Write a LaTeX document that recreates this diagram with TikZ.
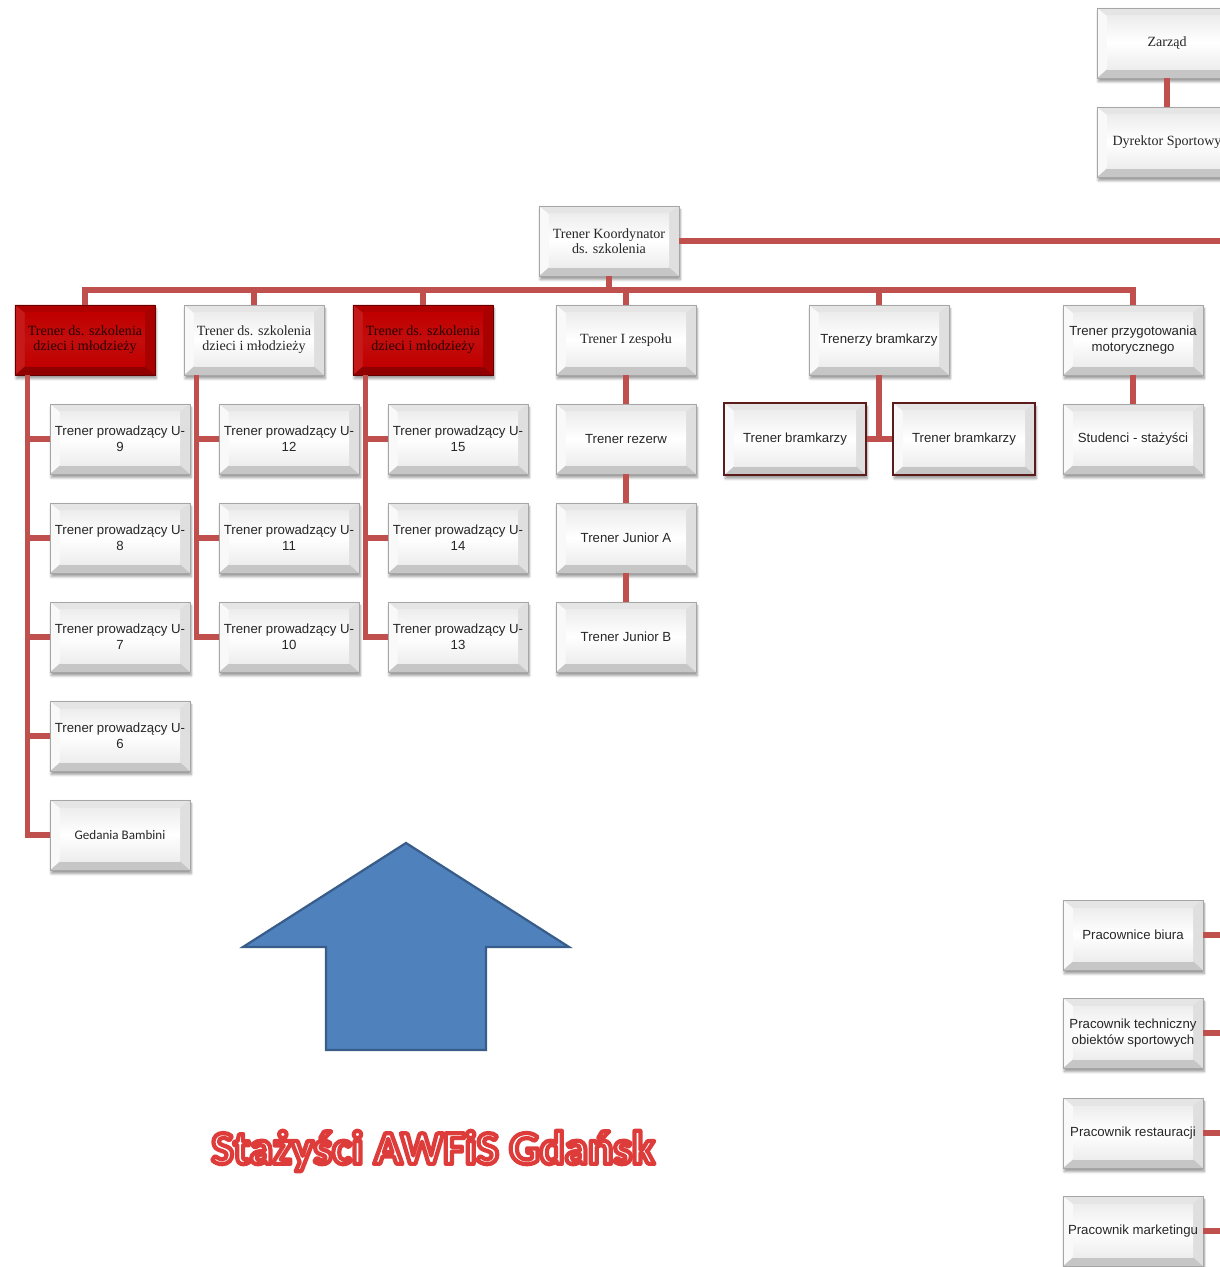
\documentclass[tikz,border=0pt]{standalone}
\usepackage{fontspec}
\usetikzlibrary{shadows.blur}
\newfontfamily\arialf{Liberation Sans}
\newfontfamily\cambf{Liberation Serif}
\newfontfamily\calibf{Carlito}
\newcommand{\outlinetext}[1]{\special{pdf:literal direct 2 Tr 3 w 1 j 0.87 0.23 0.23 RG}#1\special{pdf:literal direct 0 Tr}}

\definecolor{connred}{RGB}{192,80,77}
\definecolor{boxred}{RGB}{192,0,0}
\definecolor{goalie}{RGB}{92,28,28}
\definecolor{arrowfill}{RGB}{79,129,189}
\definecolor{arrowedge}{RGB}{56,93,138}
\definecolor{txtgray}{RGB}{38,38,38}

\tikzset{
	bevel/.style n args={6}{path picture={
		\coordinate (bva) at ([shift={(0.25cm,0.22cm)}]path picture bounding box.south west);
		\coordinate (bvb) at ([shift={(-0.25cm,-0.2cm)}]path picture bounding box.north east);
		\fill[#1] (path picture bounding box.south west) rectangle (path picture bounding box.north east);
		\fill[#2] (path picture bounding box.north west) -- (path picture bounding box.north east) -- (bvb) -- (bva |- bvb) -- cycle;
		\fill[#3] (path picture bounding box.north west) -- (bva |- bvb) -- (bva) -- (path picture bounding box.south west) -- cycle;
		\fill[#4] (path picture bounding box.north east) -- (bvb) -- (bvb |- bva) -- (path picture bounding box.south east) -- cycle;
		\shade[top color=#5, bottom color=#5, middle color=#6] (bva) rectangle (bvb);
	}},
	orgbox/.style={minimum width=3.5cm, minimum height=1.75cm, inner sep=1pt, align=center, draw=gray!70, line width=0.4pt, text=txtgray, blur shadow={shadow blur steps=6, shadow xshift=0.03cm, shadow yshift=-0.09cm, shadow opacity=40}, bevel={gray!45}{gray!20}{gray!5}{gray!25}{gray!14}{white}},
	sansbox/.style={orgbox, font=\arialf\fontsize{9.4}{11.4}\selectfont},
	serifbox/.style={orgbox, font=\cambf\fontsize{10}{10.6}\selectfont},
	redbox/.style={serifbox, draw=red!40!black, text=black!85!red, bevel={boxred!75!black}{boxred!92!black}{boxred!90!white}{boxred!88!black}{boxred}{boxred!95!white}},
	goalbox/.style={sansbox, minimum width=3.55cm, minimum height=1.8cm, draw=goalie, line width=1.6pt},
	conn/.style={draw=connred, line width=3.6pt},
}

\begin{document}
\begin{tikzpicture}[x=0.025cm, y=-0.025cm]
	\useasboundingbox (0,0) rectangle (1220,1267);
	\clip (0,0) rectangle (1220,1267);
	\coordinate (bar) at (609,290);
	\coordinate (redge) at (1240,0);

	\node[serifbox] (zarzad) at (1167,43) {Zarząd};
	\node[serifbox] (dyr) at (1167,142) {Dyrektor Sportowy};
	\node[serifbox] (koord) at (609,241) {Trener Koordynator\\ds. szkolenia};

	\node[redbox] (szk1) at (85,340) {Trener ds. szkolenia\\dzieci i młodzieży};
	\node[serifbox] (szk2) at (254,340) {Trener ds. szkolenia\\dzieci i młodzieży};
	\node[redbox] (szk3) at (423,340) {Trener ds. szkolenia\\dzieci i młodzieży};
	\node[serifbox] (zesp) at (626,340) {Trener I zespołu};
	\node[sansbox] (bramk) at (879,340) {Trenerzy bramkarzy};
	\node[sansbox] (motor) at (1133,340) {Trener przygotowania\\motorycznego};

	\node[sansbox] (u9) at (120,439) {Trener prowadzący U-\\9};
	\node[sansbox] (u8) at (120,538) {Trener prowadzący U-\\8};
	\node[sansbox] (u7) at (120,637) {Trener prowadzący U-\\7};
	\node[sansbox] (u6) at (120,736) {Trener prowadzący U-\\6};
	\node[orgbox, font=\calibf\fontsize{9.3}{11}\selectfont] (bambini) at (120,835) {Gedania Bambini};

	\node[sansbox] (u12) at (289,439) {Trener prowadzący U-\\12};
	\node[sansbox] (u11) at (289,538) {Trener prowadzący U-\\11};
	\node[sansbox] (u10) at (289,637) {Trener prowadzący U-\\10};

	\node[sansbox] (u15) at (458,439) {Trener prowadzący U-\\15};
	\node[sansbox] (u14) at (458,538) {Trener prowadzący U-\\14};
	\node[sansbox] (u13) at (458,637) {Trener prowadzący U-\\13};

	\node[sansbox] (rezerw) at (626,439) {Trener rezerw};
	\node[sansbox] (junA) at (626,538) {Trener Junior A};
	\node[sansbox] (junB) at (626,637) {Trener Junior B};

	\node[goalbox] (bramk1) at (795,439) {Trener bramkarzy};
	\node[goalbox] (bramk2) at (964,439) {Trener bramkarzy};
	\node[sansbox] (stud) at (1133,439) {Studenci - stażyści};

	\node[sansbox] (biuro) at (1133,935) {Pracownice biura};
	\node[sansbox] (tech) at (1133,1033) {Pracownik techniczny\\obiektów sportowych};
	\node[sansbox] (rest) at (1133,1133) {Pracownik restauracji};
	\node[sansbox] (market) at (1133,1231) {Pracownik marketingu};

	\draw[conn] (zarzad.south) -- (dyr.north);
	\draw[conn] (koord.east) -- (koord.east -| redge);
	\draw[conn] (koord.south) -- (bar);
	\draw[conn] (bar) -| (szk1.north);
	\draw[conn] (bar) -| (szk2.north);
	\draw[conn] (bar) -| (szk3.north);
	\draw[conn] (bar) -| (zesp.north);
	\draw[conn] (bar) -| (bramk.north);
	\draw[conn] (bar) -| (motor.north);

	\draw[conn] ([xshift=0.33cm]szk1.south west) |- (u9.west);
	\draw[conn] ([xshift=0.33cm]szk1.south west) |- (u8.west);
	\draw[conn] ([xshift=0.33cm]szk1.south west) |- (u7.west);
	\draw[conn] ([xshift=0.33cm]szk1.south west) |- (u6.west);
	\draw[conn] ([xshift=0.33cm]szk1.south west) |- (bambini.west);
	\draw[conn] ([xshift=0.33cm]szk2.south west) |- (u12.west);
	\draw[conn] ([xshift=0.33cm]szk2.south west) |- (u11.west);
	\draw[conn] ([xshift=0.33cm]szk2.south west) |- (u10.west);
	\draw[conn] ([xshift=0.33cm]szk3.south west) |- (u15.west);
	\draw[conn] ([xshift=0.33cm]szk3.south west) |- (u14.west);
	\draw[conn] ([xshift=0.33cm]szk3.south west) |- (u13.west);

	\draw[conn] (zesp.south) -- (rezerw.north);
	\draw[conn] (rezerw.south) -- (junA.north);
	\draw[conn] (junA.south) -- (junB.north);
	\draw[conn] (bramk.south) -- (bramk.south |- bramk1.east);
	\draw[conn] (bramk1.east) -- (bramk2.west);
	\draw[conn] (motor.south) -- (stud.north);

	\draw[conn] (biuro.east) -- (biuro.east -| redge);
	\draw[conn] (tech.east) -- (tech.east -| redge);
	\draw[conn] (rest.east) -- (rest.east -| redge);
	\draw[conn] (market.east) -- (market.east -| redge);

	\filldraw[fill=arrowfill, draw=arrowedge, line width=1.6pt, line join=miter] (406,843) -- (569,947) -- (486,947) -- (486,1050) -- (326,1050) -- (326,947) -- (243,947) -- cycle;

	\node[font=\calibf\bfseries\fontsize{33.5}{38}\selectfont, text=white] (title) at (433,1151) {\outlinetext{Stażyści AWFiS Gdańsk}};
\end{tikzpicture}
\end{document}
